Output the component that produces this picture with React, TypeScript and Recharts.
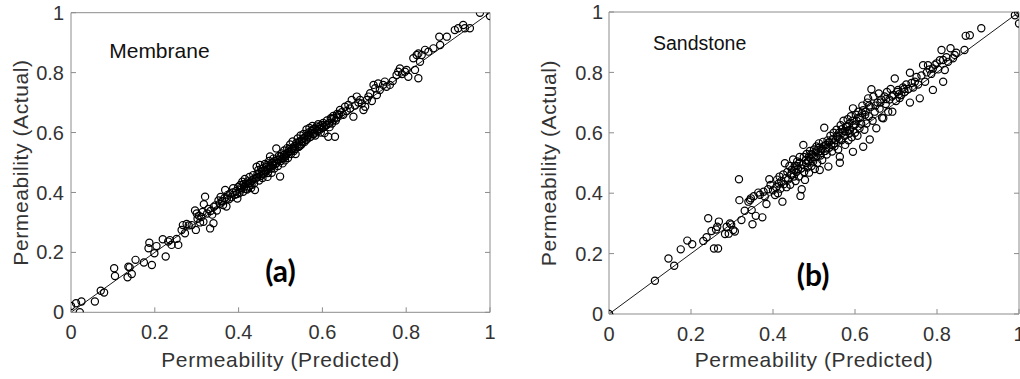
import React from 'react';
import { ScatterChart, Scatter, XAxis, YAxis, ReferenceLine, ReferenceDot } from 'recharts';

const axisTicks = [0, 0.2, 0.4, 0.6, 0.8, 1];

const membranePredicted = [
  0.000, 0.012, 0.025, 0.021, 0.057, 0.071, 0.079, 0.103, 0.105, 0.137, 0.135, 0.145, 0.140, 0.154, 0.174, 0.185, 0.187, 0.193, 0.199, 0.204,
  0.226, 0.219, 0.232, 0.240, 0.236, 0.256, 0.264, 0.267, 0.276, 0.272, 0.288, 0.298, 0.281, 0.252,
  0.296, 0.300, 0.302, 0.305, 0.308, 0.311, 0.314, 0.316, 0.320, 0.317, 0.332, 0.340, 0.325, 0.328, 0.333, 0.337, 0.341, 0.345, 0.348, 0.352,
  0.355, 0.357, 0.360, 0.363, 0.366, 0.371, 0.368, 0.374, 0.377, 0.380, 0.383, 0.387, 0.391, 0.394, 0.397, 0.399,
  0.402, 0.404, 0.406, 0.409, 0.411, 0.413, 0.415, 0.417, 0.420, 0.422, 0.424, 0.426, 0.428, 0.430, 0.433, 0.435, 0.437, 0.439, 0.441, 0.443,
  0.445, 0.447, 0.449, 0.451, 0.453, 0.455, 0.457, 0.459, 0.461, 0.463, 0.465, 0.467, 0.469, 0.471, 0.473, 0.475, 0.477, 0.479, 0.481, 0.483,
  0.485, 0.487, 0.490, 0.492, 0.494, 0.496, 0.499, 0.501, 0.503, 0.505, 0.507, 0.509, 0.511, 0.514, 0.516, 0.518, 0.520, 0.523, 0.525, 0.527,
  0.529, 0.532, 0.534, 0.536, 0.538, 0.541, 0.543, 0.545, 0.548, 0.550, 0.552, 0.555, 0.557, 0.560, 0.562, 0.564, 0.567, 0.569, 0.571, 0.574,
  0.576, 0.578, 0.581, 0.583, 0.586, 0.588, 0.590, 0.594, 0.596, 0.599, 0.602, 0.605, 0.608, 0.611, 0.614, 0.617, 0.620, 0.623, 0.626, 0.630,
  0.632, 0.635,
  0.638, 0.642, 0.650, 0.654, 0.662, 0.670, 0.674, 0.678, 0.682, 0.690, 0.694, 0.698, 0.702, 0.706, 0.710, 0.714, 0.718, 0.722, 0.726, 0.730,
  0.733, 0.737, 0.745, 0.749, 0.753, 0.761, 0.768, 0.777, 0.781, 0.785, 0.790, 0.797, 0.801, 0.805, 0.817, 0.821, 0.825, 0.829, 0.829, 0.833,
  0.837, 0.845, 0.853, 0.865, 0.879, 0.881, 0.897, 0.916, 0.924, 0.936, 0.940, 0.952, 0.976, 1.000,
  0.362, 0.372, 0.386, 0.396, 0.405, 0.412, 0.418, 0.423, 0.431, 0.436, 0.444, 0.448, 0.454, 0.458, 0.462, 0.466, 0.470, 0.474, 0.478, 0.482,
  0.486, 0.491, 0.495, 0.500, 0.504, 0.508, 0.512, 0.517, 0.521, 0.526, 0.531, 0.535, 0.540, 0.546, 0.551, 0.556, 0.561, 0.566, 0.572, 0.577,
  0.582, 0.587, 0.592, 0.598, 0.604, 0.610, 0.616, 0.622, 0.628, 0.634, 0.640, 0.646, 0.658, 0.666, 0.686,
];

const membraneActual = [
  0.021, 0.030, 0.036, 0.000, 0.036, 0.072, 0.066, 0.147, 0.121, 0.152, 0.117, 0.128, 0.150, 0.175, 0.166, 0.214, 0.232, 0.158, 0.197, 0.221,
  0.186, 0.244, 0.236, 0.225, 0.241, 0.225, 0.275, 0.291, 0.295, 0.264, 0.291, 0.275, 0.290, 0.245,
  0.340, 0.330, 0.312, 0.322, 0.300, 0.318, 0.335, 0.302, 0.386, 0.361, 0.280, 0.297, 0.330, 0.345, 0.338, 0.326, 0.352, 0.357, 0.340, 0.373,
  0.362, 0.385, 0.372, 0.358, 0.381, 0.353, 0.408, 0.392, 0.377, 0.397, 0.384, 0.414, 0.392, 0.405, 0.380, 0.418,
  0.398, 0.425, 0.410, 0.436, 0.402, 0.419, 0.445, 0.428, 0.410, 0.437, 0.420, 0.452, 0.432, 0.415, 0.441, 0.458, 0.430, 0.408, 0.448, 0.486,
  0.462, 0.475, 0.440, 0.492, 0.455, 0.470, 0.448, 0.481, 0.463, 0.495, 0.470, 0.492, 0.452, 0.478, 0.505, 0.520, 0.486, 0.466, 0.500, 0.513,
  0.480, 0.495, 0.547, 0.508, 0.488, 0.522, 0.453, 0.505, 0.530, 0.497, 0.515, 0.540, 0.507, 0.527, 0.548, 0.515, 0.535, 0.560, 0.528, 0.545,
  0.570, 0.538, 0.555, 0.528, 0.565, 0.580, 0.552, 0.570, 0.590, 0.560, 0.578, 0.595, 0.568, 0.588, 0.610, 0.580, 0.600, 0.615, 0.585, 0.605,
  0.622, 0.595, 0.612, 0.590, 0.620, 0.605, 0.628, 0.620, 0.600, 0.615, 0.632, 0.598, 0.625, 0.640, 0.586, 0.618, 0.648, 0.630, 0.655, 0.586,
  0.640, 0.662,
  0.659, 0.675, 0.659, 0.686, 0.692, 0.709, 0.653, 0.690, 0.720, 0.709, 0.697, 0.675, 0.686, 0.709, 0.720, 0.731, 0.705, 0.759, 0.748, 0.725,
  0.764, 0.742, 0.759, 0.770, 0.753, 0.759, 0.772, 0.792, 0.803, 0.814, 0.795, 0.803, 0.809, 0.786, 0.848, 0.809, 0.859, 0.864, 0.781, 0.836,
  0.859, 0.876, 0.870, 0.881, 0.920, 0.892, 0.920, 0.942, 0.948, 0.959, 0.948, 0.948, 1.000, 0.989,
  0.370, 0.380, 0.400, 0.395, 0.415, 0.428, 0.412, 0.430, 0.425, 0.445, 0.450, 0.462, 0.478, 0.462, 0.475, 0.485, 0.465, 0.490, 0.480, 0.492,
  0.505, 0.498, 0.510, 0.520, 0.512, 0.525, 0.520, 0.532, 0.545, 0.538, 0.550, 0.545, 0.560, 0.555, 0.570, 0.582, 0.575, 0.590, 0.598, 0.610,
  0.600, 0.608, 0.612, 0.625, 0.618, 0.625, 0.632, 0.645, 0.648, 0.650, 0.660, 0.668, 0.672, 0.680, 0.700,
];

const sandstonePredicted = [
  0.000, 0.112, 0.145, 0.159, 0.175, 0.191, 0.203, 0.230, 0.238, 0.242, 0.250, 0.256, 0.266, 0.261, 0.268, 0.264, 0.283, 0.287, 0.295, 0.303,
  0.307, 0.317, 0.318, 0.323, 0.331, 0.340, 0.344, 0.348, 0.350, 0.358, 0.364, 0.374, 0.380, 0.384, 0.388, 0.394, 0.391, 0.400, 0.405, 0.298,
  0.292, 0.346, 0.353, 0.368, 0.377,
  0.408, 0.410, 0.412, 0.414, 0.416, 0.418, 0.420, 0.423, 0.425, 0.427, 0.429, 0.431, 0.433, 0.435, 0.437, 0.440, 0.442, 0.444, 0.446, 0.449,
  0.451, 0.453, 0.455, 0.457, 0.459, 0.461, 0.463, 0.465, 0.467, 0.470, 0.472, 0.474, 0.476, 0.478, 0.480, 0.482, 0.484, 0.486, 0.488, 0.490,
  0.492, 0.494, 0.496, 0.498, 0.500, 0.502, 0.504, 0.506, 0.508, 0.510, 0.512, 0.514, 0.516, 0.518, 0.520, 0.522, 0.525, 0.527, 0.529, 0.531,
  0.533, 0.535, 0.537, 0.540, 0.542, 0.544, 0.546, 0.548, 0.550, 0.553, 0.555, 0.557, 0.559, 0.561, 0.563, 0.563, 0.565, 0.567, 0.569, 0.572,
  0.574, 0.576, 0.578, 0.580, 0.582, 0.584, 0.586, 0.588, 0.590, 0.592, 0.595, 0.595, 0.597, 0.600, 0.602, 0.604, 0.606, 0.608, 0.611, 0.613,
  0.615, 0.618, 0.620, 0.620, 0.623, 0.625, 0.628, 0.630, 0.632, 0.634, 0.636, 0.638, 0.640, 0.643, 0.645, 0.648, 0.652, 0.655, 0.658, 0.660,
  0.664, 0.666, 0.669, 0.672, 0.675, 0.678, 0.681, 0.684, 0.687, 0.691, 0.694, 0.697, 0.700, 0.703, 0.705, 0.709, 0.713, 0.717, 0.721, 0.725,
  0.730, 0.734, 0.734, 0.738, 0.742, 0.746, 0.750, 0.754, 0.758, 0.762, 0.766, 0.771, 0.775, 0.778, 0.782, 0.786, 0.790, 0.790, 0.795, 0.799,
  0.803, 0.807, 0.811, 0.815, 0.815, 0.819, 0.823, 0.827, 0.833, 0.839, 0.843, 0.847, 0.867, 0.870, 0.880, 0.908, 0.990, 0.998, 1.000,
  0.445, 0.452, 0.458, 0.464, 0.469, 0.475, 0.481, 0.487, 0.493, 0.499, 0.505, 0.511, 0.517, 0.523, 0.530, 0.536, 0.543, 0.549, 0.556, 0.562,
  0.568, 0.575, 0.581, 0.587, 0.594, 0.601, 0.609, 0.617, 0.626, 0.635, 0.650, 0.662, 0.676, 0.690, 0.707, 0.720,
];

const sandstoneActual = [
  0.000, 0.110, 0.184, 0.160, 0.214, 0.243, 0.231, 0.242, 0.254, 0.317, 0.275, 0.217, 0.217, 0.280, 0.306, 0.289, 0.265, 0.289, 0.300, 0.278,
  0.273, 0.446, 0.377, 0.311, 0.342, 0.372, 0.377, 0.344, 0.297, 0.325, 0.402, 0.320, 0.389, 0.364, 0.413, 0.427, 0.446, 0.410, 0.394, 0.296,
  0.266, 0.383, 0.390, 0.395, 0.405,
  0.420, 0.445, 0.400, 0.432, 0.455, 0.415, 0.440, 0.372, 0.462, 0.430, 0.499, 0.450, 0.420, 0.470, 0.445, 0.490, 0.428, 0.460, 0.478, 0.512,
  0.455, 0.490, 0.440, 0.470, 0.505, 0.480, 0.455, 0.520, 0.391, 0.413, 0.495, 0.560, 0.470, 0.444, 0.510, 0.530, 0.485, 0.505, 0.468, 0.540,
  0.515, 0.490, 0.528, 0.505, 0.545, 0.480, 0.520, 0.555, 0.500, 0.535, 0.565, 0.477, 0.525, 0.548, 0.510, 0.570, 0.617, 0.540, 0.560, 0.528,
  0.575, 0.488, 0.550, 0.590, 0.560, 0.538, 0.580, 0.600, 0.555, 0.575, 0.610, 0.585, 0.545, 0.600, 0.501, 0.521, 0.625, 0.575, 0.600, 0.640,
  0.590, 0.560, 0.620, 0.605, 0.645, 0.575, 0.630, 0.610, 0.655, 0.585, 0.537, 0.681, 0.625, 0.600, 0.660, 0.640, 0.590, 0.670, 0.615, 0.650,
  0.630, 0.690, 0.554, 0.675, 0.610, 0.660, 0.631, 0.700, 0.714, 0.655, 0.578, 0.685, 0.744, 0.640, 0.720, 0.670, 0.615, 0.700, 0.730, 0.680,
  0.710, 0.650, 0.648, 0.720, 0.695, 0.735, 0.670, 0.710, 0.745, 0.670, 0.725, 0.780, 0.705, 0.735, 0.742, 0.715, 0.725, 0.750, 0.735, 0.760,
  0.745, 0.700, 0.799, 0.765, 0.750, 0.769, 0.785, 0.760, 0.714, 0.790, 0.824, 0.769, 0.800, 0.824, 0.810, 0.795, 0.742, 0.813, 0.825, 0.830,
  0.810, 0.840, 0.874, 0.769, 0.841, 0.808, 0.850, 0.835, 0.880, 0.847, 0.858, 0.865, 0.874, 0.921, 0.923, 0.946, 0.989, 0.998, 0.962,
  0.465, 0.478, 0.490, 0.500, 0.482, 0.520, 0.500, 0.520, 0.530, 0.520, 0.538, 0.550, 0.540, 0.555, 0.548, 0.568, 0.575, 0.565, 0.590, 0.580,
  0.612, 0.605, 0.620, 0.598, 0.640, 0.628, 0.650, 0.665, 0.670, 0.690, 0.690, 0.700, 0.712, 0.720, 0.728, 0.745,
];

const membraneData = membranePredicted.map((x, i) => ({ x, y: membraneActual[i] }));
const sandstoneData = sandstonePredicted.map((x, i) => ({ x, y: sandstoneActual[i] }));

const SANS = '"Liberation Sans", Arial, Helvetica, sans-serif';
const AXIS_COLOR = '#8c8c8c';
const TEXT_COLOR = '#333333';

const Ring = (props: any) => {
  const { cx, cy } = props;
  if (cx == null || cy == null) return null;
  return <circle cx={cx} cy={cy} r={3.6} fill="none" stroke="#000" strokeWidth={1.2} />;
};

type PanelProps = {
  data: { x: number; y: number }[];
  left: number;
  width: number;
  marginTop: number;
  marginRight: number;
  yAxisWidth: number;
  xAxisHeight: number;
  xTickMargin: number;
  yTickMargin: number;
  xLabelOffset: number;
  yLabelDx: number;
  name: string;
  nameX: number;
  nameY: number;
  nameSize: number;
  tag: string;
  tagX: number;
  tagY: number;
};

const Panel = (p: PanelProps) => (
  <div style={{ position: 'absolute', left: p.left, top: 0 }}>
    <ScatterChart
      width={p.width}
      height={379}
      margin={{ top: p.marginTop, right: p.marginRight, bottom: 0, left: 0 }}
    >
      <XAxis
        type="number"
        dataKey="x"
        domain={[0, 1]}
        ticks={axisTicks}
        interval={0}
        allowDataOverflow
        height={p.xAxisHeight}
        tickSize={-5}
        tickMargin={p.xTickMargin}
        axisLine={{ stroke: AXIS_COLOR }}
        tickLine={{ stroke: AXIS_COLOR }}
        tick={{ fill: TEXT_COLOR, fontSize: 20, fontFamily: SANS }}
        label={{
          value: 'Permeability (Predicted)',
          position: 'insideBottom',
          offset: p.xLabelOffset,
          fill: TEXT_COLOR,
          fontSize: 21,
          letterSpacing: 0.6,
          fontFamily: SANS,
        }}
      />
      <XAxis
        xAxisId="top"
        orientation="top"
        type="number"
        domain={[0, 1]}
        ticks={axisTicks}
        interval={0}
        allowDataOverflow
        mirror
        tickSize={5}
        tickFormatter={() => ''}
        axisLine={{ stroke: AXIS_COLOR }}
        tickLine={{ stroke: AXIS_COLOR }}
      />
      <YAxis
        type="number"
        dataKey="y"
        domain={[0, 1]}
        ticks={axisTicks}
        interval={0}
        allowDataOverflow
        width={p.yAxisWidth}
        tickSize={-5}
        tickMargin={p.yTickMargin}
        axisLine={{ stroke: AXIS_COLOR }}
        tickLine={{ stroke: AXIS_COLOR }}
        tick={{ fill: TEXT_COLOR, fontSize: 20, fontFamily: SANS }}
        label={{
          value: 'Permeability (Actual)',
          angle: -90,
          position: 'center',
          dx: p.yLabelDx,
          fill: TEXT_COLOR,
          fontSize: 21,
          letterSpacing: 0.6,
          fontFamily: SANS,
        }}
      />
      <YAxis
        yAxisId="right"
        orientation="right"
        type="number"
        domain={[0, 1]}
        ticks={axisTicks}
        interval={0}
        allowDataOverflow
        mirror
        tickSize={5}
        tickFormatter={() => ''}
        axisLine={{ stroke: AXIS_COLOR }}
        tickLine={{ stroke: AXIS_COLOR }}
      />
      <ReferenceLine
        segment={[
          { x: 0, y: 0 },
          { x: 1, y: 1 },
        ]}
        stroke="#1a1a1a"
        strokeWidth={1}
        ifOverflow="visible"
      />
      <Scatter data={p.data} shape={Ring} isAnimationActive={false} />
      <ReferenceDot
        x={p.nameX}
        y={p.nameY}
        r={0}
        fill="none"
        stroke="none"
        ifOverflow="visible"
        label={{ value: p.name, position: 'center', fill: '#111', fontSize: p.nameSize, fontFamily: SANS }}
      />
      <ReferenceDot
        x={p.tagX}
        y={p.tagY}
        r={0}
        fill="none"
        stroke="none"
        ifOverflow="visible"
        label={{
          value: p.tag,
          position: 'center',
          fill: '#000',
          fontSize: 30,
          fontWeight: 700,
          fontFamily: 'Lato, "Open Sans", sans-serif',
        }}
      />
    </ScatterChart>
  </div>
);

export default function App() {
  return (
    <div style={{ position: 'absolute', left: 0, top: 0, width: 1020, height: 379, background: '#fff', overflow: 'hidden' }}>
      <Panel
        data={membraneData}
        left={0}
        width={510}
        marginTop={12.7}
        marginRight={20}
        yAxisWidth={71}
        xAxisHeight={66.7}
        xTickMargin={17.5}
        yTickMargin={12}
        xLabelOffset={12}
        yLabelDx={-15}
        name="Membrane"
        nameX={0.211}
        nameY={0.875}
        nameSize={21}
        tag="(a)"
        tagX={0.5}
        tagY={0.1365}
      />
      <Panel
        data={sandstoneData}
        left={510}
        width={510}
        marginTop={12}
        marginRight={1}
        yAxisWidth={99}
        xAxisHeight={65}
        xTickMargin={17.8}
        yTickMargin={11}
        xLabelOffset={12.5}
        yLabelDx={-10.8}
        name="Sandstone"
        nameX={0.221}
        nameY={0.896}
        nameSize={19.5}
        tag="(b)"
        tagX={0.498}
        tagY={0.1295}
      />
    </div>
  );
}
